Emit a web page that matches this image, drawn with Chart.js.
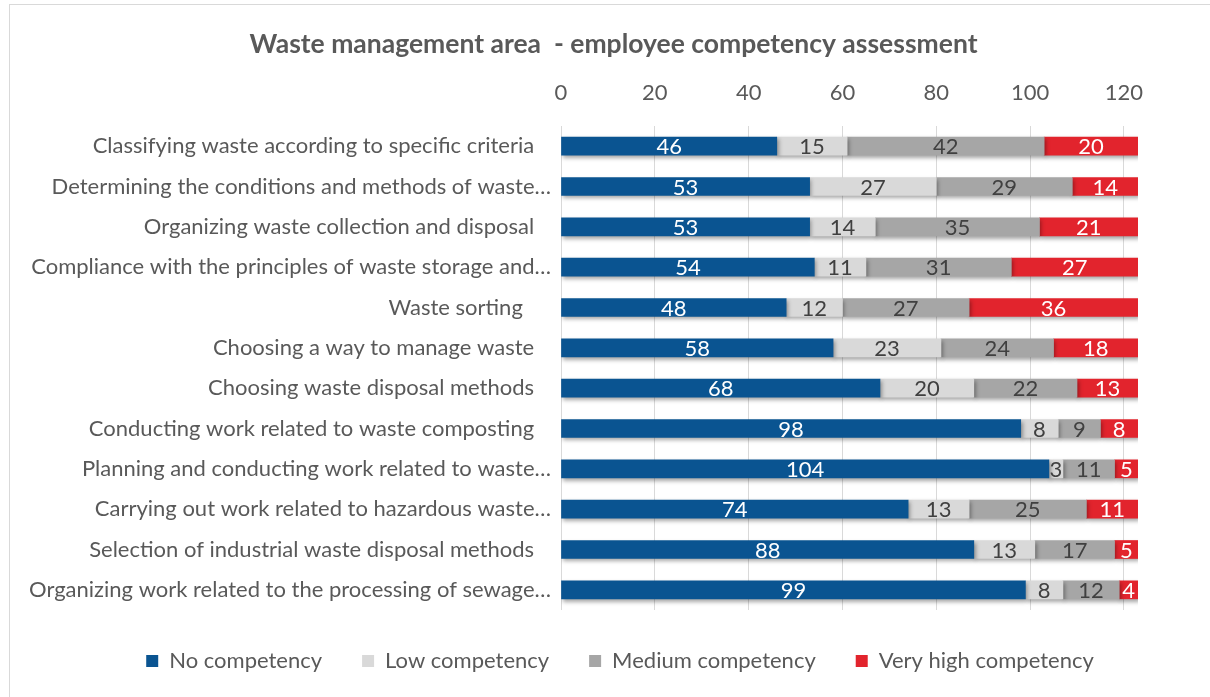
<!DOCTYPE html>
<html><head><meta charset="utf-8">
<script src="https://cdn.jsdelivr.net/npm/chart.js@4.4.1/dist/chart.umd.min.js"></script>
<style>
html,body{margin:0;padding:0;background:#fff;}
#wrap{position:relative;width:1210px;height:697px;overflow:hidden;}
#frame{position:absolute;left:9px;top:4px;width:1300px;height:800px;border:1px solid #d9d9d9;box-sizing:border-box;}
canvas{position:absolute;left:0;top:0;}
</style></head><body>
<div id="wrap"><div id="frame"></div><canvas id="c" width="1210" height="697"></canvas></div>
<script>
const categories = [
  "Classifying waste according to specific criteria   ",
  "Determining the conditions and methods of waste…",
  "Organizing waste collection and disposal   ",
  "Compliance with the principles of waste storage and…",
  "Waste sorting     ",
  "Choosing a way to manage waste   ",
  "Choosing waste disposal methods   ",
  "Conducting work related to waste composting   ",
  "Planning and conducting work related to waste…",
  "Carrying out work related to hazardous waste…",
  "Selection of industrial waste disposal methods   ",
  "Organizing work related to the processing of sewage…"
];
const noCompetency       = [46, 53, 53, 54, 48, 58, 68, 98, 104, 74, 88, 99];
const lowCompetency      = [15, 27, 14, 11, 12, 23, 20, 8, 3, 13, 13, 8];
const mediumCompetency   = [42, 29, 35, 31, 27, 24, 22, 9, 11, 25, 17, 12];
const veryHighCompetency = [20, 14, 21, 27, 36, 18, 13, 8, 5, 11, 5, 4];
const seriesNames = ["No competency", "Low competency", "Medium competency", "Very high competency"];
const xTickStep = 20;
const xMax = 123;

const FONT = "Lato";
const TXT = "#595959";
const FS = 22;

const barShadow = {
  id: 'barShadow',
  beforeDatasetsDraw(chart) {
    const c = chart.ctx; c.save();
    c.shadowColor = 'rgba(0,0,0,0.35)'; c.shadowBlur = 4; c.shadowOffsetX = 1.5; c.shadowOffsetY = 2.5;
  },
  afterDatasetsDraw(chart) { chart.ctx.restore(); }
};
const valueLabels = {
  id: 'valueLabels',
  afterDatasetsDraw(chart) {
    const ctx = chart.ctx;
    ctx.save();
    ctx.font = FS + "px " + FONT;
    ctx.textAlign = 'center'; ctx.textBaseline = 'middle';
    chart.data.datasets.forEach((ds, i) => {
      const meta = chart.getDatasetMeta(i);
      meta.data.forEach((el, j) => {
        ctx.fillStyle = ds.labelColor;
        ctx.fillText(String(ds.data[j]), (el.x + el.base) / 2, el.y + 1);
      });
    });
    ctx.restore();
  }
};
// re-center title and legend boxes horizontally (layout only)
const recenter = {
  id: 'recenter',
  afterLayout(chart) {
    const move = (box, cx) => {
      if (!box) return;
      const d = cx - (box.left + box.right) / 2;
      box.left += d; box.right += d;
    };
    move(chart.titleBlock, 613.5);
    move(chart.legend, 620);
  }
};

const mk = (label, data, color, labelColor) => ({
  label, data, backgroundColor: color, labelColor, barThickness: 18, borderWidth: 0
});

new Chart(document.getElementById('c'), {
  type: 'bar',
  data: {
    labels: categories,
    datasets: [
      mk(seriesNames[0], noCompetency, '#0a5491', '#ffffff'),
      mk(seriesNames[1], lowCompetency, '#d9d9d9', '#404040'),
      mk(seriesNames[2], mediumCompetency, '#a6a6a6', '#404040'),
      mk(seriesNames[3], veryHighCompetency, '#e2242d', '#ffffff')
    ]
  },
  plugins: [barShadow, valueLabels, recenter],
  options: {
    indexAxis: 'y',
    responsive: false,
    animation: false,
    layout: { padding: { left: 0, right: 72, top: 0, bottom: 15 } },
    plugins: {
      title: {
        display: true,
        text: "Waste management area  - employee competency assessment",
        color: TXT,
        font: { family: FONT, size: 26.5, weight: 'bold' },
        padding: { top: 28.1, bottom: 0 }
      },
      legend: {
        position: 'bottom',
        labels: {
          color: TXT, boxWidth: 12, boxHeight: 12, padding: 40,
          font: { family: FONT, size: FS }
        }
      },
      tooltip: { enabled: false }
    },
    scales: {
      x: {
        position: 'top', stacked: true, min: 0, max: xMax,
        ticks: { stepSize: xTickStep, includeBounds: false, padding: 20, color: TXT, font: { family: FONT, size: FS } },
        grid: { color: '#d9d9d9', drawTicks: false },
        border: { display: false },
        afterFit: s => { s.height = 66.1; }
      },
      y: {
        stacked: true,
        ticks: { padding: 10, color: TXT, font: { family: FONT, size: FS } },
        grid: { display: false, drawTicks: false },
        border: { display: false },
        afterFit: s => { s.width = 561; }
      }
    }
  }
});
</script>
</body></html>
